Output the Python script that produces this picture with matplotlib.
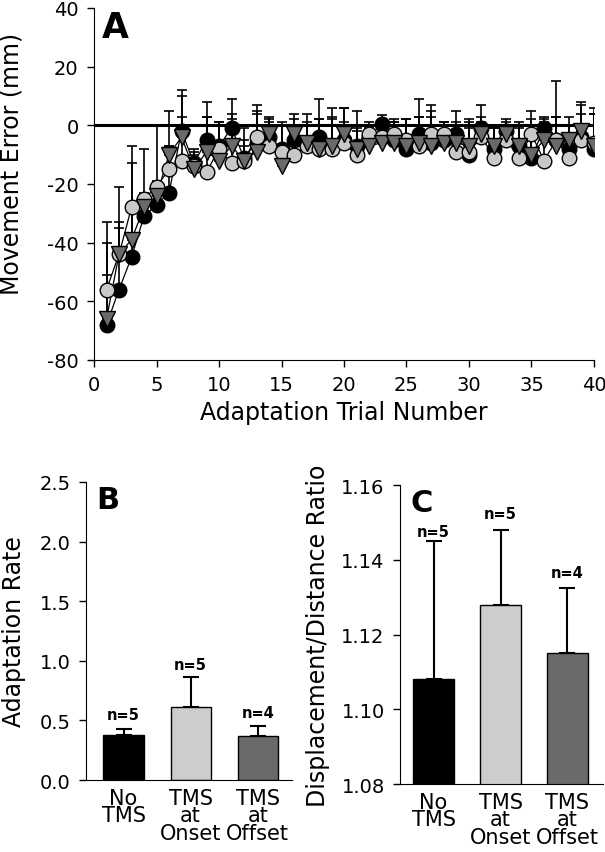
import matplotlib
matplotlib.use("Agg")
import matplotlib.pyplot as plt
import numpy as np

plt.rcParams["font.family"] = ["DejaVu Sans"]
plt.rcParams["axes.unicode_minus"] = False

# panel A: movement error per adaptation trial (mm), upper error only
trials = list(range(1, 41))

no_tms = [-68, -56, -45, -31, -27, -23, -2, -13, -5, -7,
          -1, -11, -6, -4, -8, -5, -6, -4, -7, -5,
          -7, -4, 0.5, -5, -8, -3, -6, -5, -3, -10,
          -1, -8, -2, -7, -11, -1, -5, -8, -4, -8]
no_tms_err = [28, 35, 38, 23, 27, 28, 14, 5, 13, 8,
              10, 10, 13, 7, 9, 9, 10, 13, 13, 11,
              12, 4, 3, 6, 10, 12, 13, 6, 8, 12,
              8, 7, 4, 8, 16, 4, 20, 8, 11, 14]

tms_onset = [-56, -44, -28, -25, -21, -15, -12, -14, -16, -8,
             -13, -12, -4, -7, -9, -10, -7, -8, -8, -6,
             -10, -3, -4, -3, -5, -7, -3, -3, -9, -9,
             -4, -11, -5, -11, -3, -12, -5, -11, -5, -6]
tms_onset_err = [23, 11, 15, 2, 2, 8, 15, 4, 19, 9,
                 17, 5, 9, 8, 9, 8, 7, 10, 10, 7,
                 8, 4, 3, 4, 7, 10, 6, 4, 7, 8,
                 5, 10, 5, 10, 5, 14, 8, 11, 9, 10]

tms_offset = [-66, -44, -39, -28, -24, -10, -4, -15, -9, -12,
              -7, -12, -9, -3, -14, -3, -6, -8, -7, -3,
              -8, -7, -6, -6, -7, -6, -7, -6, -6, -7,
              -3, -7, -3, -7, -10, -5, -7, -5, -2, -7]
tms_offset_err = [15, 9, 12, 2, 4, 3, 14, 6, 12, 3,
                  9, 7, 13, 5, 7, 5, 7, 10, 10, 9,
                  7, 6, 5, 8, 7, 9, 12, 7, 7, 8,
                  6, 7, 4, 7, 6, 6, 10, 8, 10, 11]

# panels B and C
groups = ["No\nTMS", "TMS\nat\nOnset", "TMS\nat\nOffset"]
n_subjects = ["n=5", "n=5", "n=4"]
bar_colors = ["black", "#cdcdcd", "#6a6a6a"]

adapt_rate = [0.38, 0.61, 0.37]
adapt_rate_err = [0.05, 0.25, 0.08]

ratio = [1.108, 1.128, 1.115]
ratio_err = [0.037, 0.020, 0.0175]

fig = plt.figure(figsize=(6.05, 8.53), dpi=100)

# ---------------- panel A ----------------
ax = fig.add_axes([0.1554, 0.5768, 0.8264, 0.4127])

series = [
    (no_tms, no_tms_err, "o", "black"),
    (tms_onset, tms_onset_err, "o", "#c8c8c8"),
    (tms_offset, tms_offset_err, "v", "#6a6a6a"),
]
ax.axhline(0, color="black", lw=2.2, zorder=1)
for vals, err, marker, color in series:
    ax.errorbar(trials, vals, yerr=[np.zeros(len(err)), err],
                fmt="-", color="black", lw=0.9, elinewidth=1.2,
                capsize=3.5, capthick=1.2, zorder=2)
    ax.plot(trials, vals, marker=marker, linestyle="none",
            markersize=10.5 if marker == "o" else 11.5,
            markerfacecolor=color, markeredgecolor="black",
            markeredgewidth=1, zorder=3)

ax.set_xlim(0, 40)
ax.set_ylim(-80, 40)
ax.set_xticks(range(0, 41, 5))
ax.set_yticks(range(-80, 41, 20))
ax.spines["top"].set_visible(False)
ax.spines["right"].set_visible(False)
ax.tick_params(labelsize=14, length=5, width=1, pad=6)
ax.set_xlabel("Adaptation Trial Number", fontsize=17, labelpad=4)
ax.set_ylabel("Movement Error (mm)", fontsize=17)
ax.yaxis.set_label_coords(-0.142, 0.56)
ax.text(0.015, 0.995, "A", transform=ax.transAxes, fontsize=25,
        fontweight="bold", ha="left", va="top")


def bar_panel(rect, vals, errs, ylim, yticks, fmt, ylabel, label_x,
              letter, n_pos, xlim):
    bx = fig.add_axes(rect)
    x = np.arange(len(vals))
    bx.bar(x, vals, width=0.6, color=bar_colors, edgecolor="black",
           linewidth=1, zorder=2)
    bx.errorbar(x, vals, yerr=[np.zeros(len(errs)), errs], fmt="none",
                ecolor="black", elinewidth=1.5, capsize=5.5, capthick=1.5,
                zorder=1)
    for xi, yi, txt in zip(x, n_pos, n_subjects):
        bx.text(xi, yi, txt, ha="center", va="center", fontsize=10.5,
                fontweight="bold")
    bx.set_xlim(*xlim)
    bx.set_ylim(*ylim)
    bx.set_yticks(yticks)
    bx.set_yticklabels([fmt.format(t) for t in yticks])
    bx.set_xticks(x)
    bx.set_xticklabels(groups, fontsize=15, linespacing=0.82)
    bx.spines["top"].set_visible(False)
    bx.spines["right"].set_visible(False)
    bx.tick_params(axis="y", labelsize=14, length=5, width=1, pad=6)
    bx.tick_params(axis="x", length=0, pad=6)
    bx.set_ylabel(ylabel, fontsize=17)
    bx.yaxis.set_label_coords(label_x, 0.5)
    bx.text(0.05, 0.99, letter, transform=bx.transAxes, fontsize=22,
            fontweight="bold", ha="left", va="top")
    return bx


bar_panel([0.1421, 0.0844, 0.3405, 0.3494], adapt_rate, adapt_rate_err,
          (0, 2.5), [0.0, 0.5, 1.0, 1.5, 2.0, 2.5], "{:.1f}",
          "Adaptation Rate", -0.29, "B", [0.55, 0.97, 0.57], (-0.56, 2.51))

bar_panel([0.6612, 0.0797, 0.3355, 0.3505], ratio, ratio_err,
          (1.08, 1.16), [1.08, 1.10, 1.12, 1.14, 1.16], "{:.2f}",
          "Displacement/Distance Ratio", -0.345, "C",
          [1.1475, 1.1525, 1.1365], (-0.5, 2.53))

plt.savefig("out.png", dpi=100)
